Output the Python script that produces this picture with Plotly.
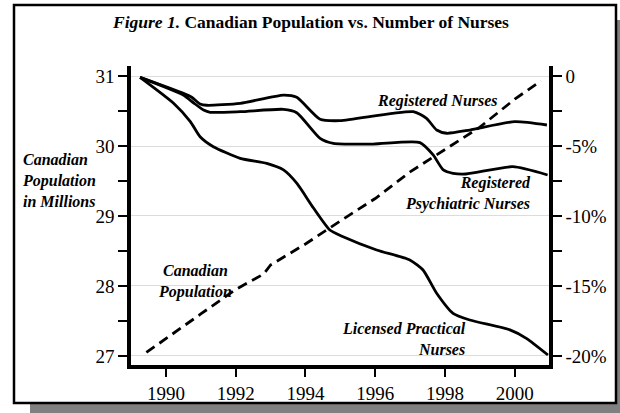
import plotly.graph_objects as go

# ---- data ----
pop_years = [1989.44, 1990, 1991, 1992, 1992.8, 1993.0, 1994, 1995, 1996, 1997, 1998, 1999, 2000, 2000.75]
pop_vals = [27.05, 27.25, 27.6, 27.95, 28.17, 28.3, 28.6, 28.93, 29.25, 29.63, 29.95, 30.27, 30.67, 30.93]

rn_years = [1989.26, 1990.5, 1990.74, 1990.98, 1991.17, 1992.13, 1993.37, 1993.75, 1994.42, 1994.99,
            1997.09, 1997.47, 1997.76, 1998.05, 1998.71, 2000.0, 2000.92]
rn_vals = [-0.1, -1.24, -1.52, -2.0, -2.09, -1.95, -1.36, -1.52, -3.09, -3.19,
           -2.55, -3.02, -3.86, -4.09, -3.86, -3.26, -3.5]

rpn_years = [1989.26, 1990.5, 1990.79, 1991.08, 1991.27, 1992.13, 1993.37, 1993.75, 1994.42, 1994.8,
             1995.94, 1997.28, 1997.66, 1997.95, 1998.23, 1998.6, 1999.94, 2000.94]
rpn_vals = [-0.1, -1.36, -1.91, -2.43, -2.59, -2.55, -2.38, -2.62, -4.45, -4.81,
            -4.86, -4.76, -5.64, -6.71, -6.95, -7.0, -6.48, -7.07]

lpn_years = [1989.26, 1990.22, 1990.7, 1990.98, 1991.36, 1992.13, 1992.89, 1993.37, 1993.75, 1994.23,
             1994.7, 1995.08, 1996.04, 1996.99, 1997.37, 1997.76, 1998.23, 1998.71, 1999.86, 2000.33, 2000.95]
lpn_vals = [-0.1, -1.95, -3.26, -4.34, -5.05, -5.88, -6.24, -6.71, -7.66, -9.43,
            -11.0, -11.48, -12.43, -13.14, -13.86, -15.52, -16.95, -17.43, -18.14, -18.74, -19.93]

x_ticks = [1990, 1992, 1994, 1996, 1998, 2000]
y_ticks = [27, 28, 29, 30, 31]
y2_ticks = [0, -5, -10, -15, -20]
y2_labels = ["0", "-5%", "-10%", "-15%", "-20%"]

# ---- figure ----
W, H = 620, 413
L, R, T, B = 131, 71, 66, 48
pw, ph = W - L - R, H - T - B


def px(x):
    return (x - L) / pw


def py(y):
    return (H - B - y) / ph


FONT = "Liberation Serif"
fig = go.Figure()

line_style = dict(color="black", width=2.8, shape="spline", smoothing=0.6)
fig.add_trace(go.Scatter(x=pop_years, y=pop_vals, mode="lines",
                         line=dict(color="black", width=2.8, dash="10px,6px"), yaxis="y"))
fig.add_trace(go.Scatter(x=rn_years, y=rn_vals, mode="lines", line=line_style, yaxis="y2"))
fig.add_trace(go.Scatter(x=rpn_years, y=rpn_vals, mode="lines", line=line_style, yaxis="y2"))
fig.add_trace(go.Scatter(x=lpn_years, y=lpn_vals, mode="lines", line=line_style, yaxis="y2"))

y_lo, y_hi = 26.871, 31.143
tickfont = dict(family=FONT, size=19, color="black")

fig.update_layout(
    width=W, height=H,
    margin=dict(l=L, r=R, t=T, b=B, autoexpand=False),
    paper_bgcolor="white", plot_bgcolor="rgba(0,0,0,0)",
    showlegend=False,
    xaxis=dict(range=[1989.0, 2000.98], tickvals=x_ticks, ticks="outside", ticklen=8, tickwidth=1.5,
               tickcolor="black", showline=True, linewidth=4, linecolor="black", showgrid=False,
               zeroline=False, tickfont=tickfont),
    yaxis=dict(range=[y_lo, y_hi], tickvals=y_ticks, ticks="outside", ticklen=9, tickwidth=1.5,
               tickcolor="black", showline=True, linewidth=3.5, linecolor="black",
               showgrid=True, gridcolor="#dcdcdc", gridwidth=1, zeroline=False, tickfont=tickfont,
               minor=dict(dtick=0.5, tick0=27, ticks="outside", ticklen=9, tickwidth=1.5,
                          tickcolor="black", showgrid=False)),
    yaxis2=dict(range=[(y_lo - 31) * 5, (y_hi - 31) * 5], overlaying="y", side="right",
                tickvals=y2_ticks, ticktext=y2_labels, ticks="outside", ticklen=9, tickwidth=1.5,
                tickcolor="black", showline=True, linewidth=3.5, linecolor="black",
                showgrid=False, zeroline=False, tickfont=tickfont,
                minor=dict(dtick=2.5, tick0=0, ticks="outside", ticklen=9, tickwidth=1.5,
                           tickcolor="black", showgrid=False)),
    shapes=[
        dict(type="rect", xref="paper", yref="paper", x0=px(30), x1=px(632), y0=py(420), y1=py(20),
             fillcolor="#808080", line=dict(width=0), layer="below"),
        dict(type="rect", xref="paper", yref="paper", x0=px(14), x1=px(616), y0=py(403), y1=py(5),
             fillcolor="white", line=dict(color="black", width=2.5), layer="below"),
    ],
)

ann_font = dict(family=FONT, size=16, color="black")
anns = [
    dict(text="<b><i>Figure 1.</i> Canadian Population vs. Number of Nurses</b>", x=px(310), y=py(22),
         xanchor="center", yanchor="middle", font=dict(family=FONT, size=17.5, color="black")),
    dict(text="<b><i>Canadian<br>Population<br>in Millions</i></b>", x=px(20), y=py(180),
         xanchor="left", yanchor="middle", align="left", font=ann_font),
    dict(text="<b><i>Registered Nurses</i></b>", x=px(375), y=py(101),
         xanchor="left", yanchor="middle", font=ann_font),
    dict(text="<b><i>Registered<br>Psychiatric Nurses</i></b>", x=px(533), y=py(193.5),
         xanchor="right", yanchor="middle", align="right", font=ann_font),
    dict(text="<b><i>Canadian<br>Population</i></b>", x=px(195), y=py(281.5),
         xanchor="center", yanchor="middle", align="center", font=ann_font),
    dict(text="<b><i>Licensed Practical<br>Nurses</i></b>", x=px(468), y=py(339),
         xanchor="right", yanchor="middle", align="right", font=ann_font),
]
for a in anns:
    a.update(xref="paper", yref="paper", showarrow=False)
fig.update_layout(annotations=anns)

fig.write_html("out.html", config={"displayModeBar": False},
               post_script="document.body.style.margin='0';document.body.style.overflow='hidden';")
